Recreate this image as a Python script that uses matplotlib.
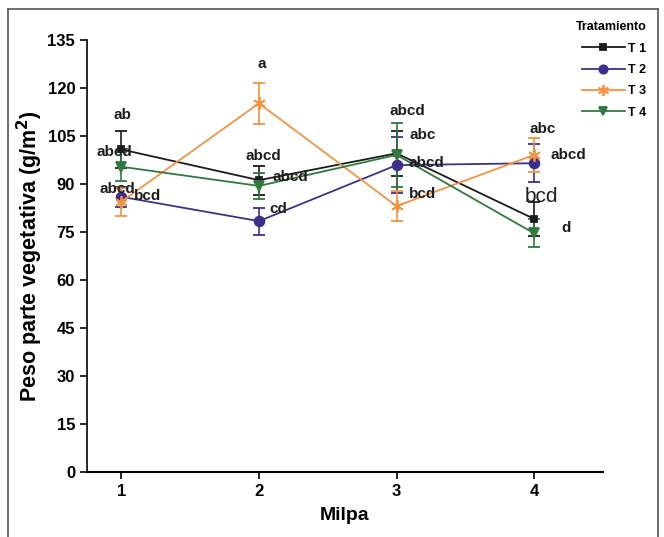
import matplotlib
matplotlib.use("Agg")
import matplotlib.pyplot as plt
from matplotlib.lines import Line2D

milpa = [1, 2, 3, 4]
series_names = ["T 1", "T 2", "T 3", "T 4"]
t1 = [100.8, 91.2, 99.6, 79.1]
t1_err = [5.8, 4.5, 7.0, 5.3]
t2 = [86.0, 78.4, 95.9, 96.5]
t2_err = [3.2, 4.2, 8.7, 6.0]
t3 = [84.5, 115.2, 83.1, 99.1]
t3_err = [4.4, 6.5, 4.8, 5.2]
t4 = [95.4, 89.4, 99.1, 74.6]
t4_err = [4.5, 4.0, 9.9, 4.4]

labels_text = ["ab", "abcd", "abcd", "bcd",
               "a", "abcd", "abcd", "cd",
               "abcd", "abc", "abcd", "bcd",
               "abc", "abcd", "bcd", "d"]
labels_x = [1.01, 0.95, 0.97, 1.19,
            2.02, 2.03, 2.23, 2.14,
            3.08, 3.19, 3.22, 3.19,
            4.06, 4.25, 4.05, 4.23]
labels_y = [111.5, 100.1, 88.4, 86.3,
            127.4, 98.6, 92.2, 82.2,
            112.9, 105.2, 96.7, 86.8,
            107.2, 99.1, 86.0, 76.1]
labels_size = [11, 11, 11, 11, 11, 11, 11, 11, 11, 11, 11, 11, 11, 11, 15, 11]
labels_weight = ["bold"] * 14 + ["medium", "bold"]

yticks = [0, 15, 30, 45, 60, 75, 90, 105, 120, 135]

plt.rcParams['font.family'] = ['Liberation Sans', 'DejaVu Sans']

fig = plt.figure(figsize=(6.64, 5.37), dpi=100)
ax = fig.add_axes([0.131, 0.121, 0.777, 0.8045])

colors = ["#1c1c1c", "#3f2f8c", "#f5923e", "#2f7a3c"]
markers = ["s", "o", (6, 2, 0), "v"]
msizes = [5, 7, 9, 7]
data = [(t1, t1_err), (t2, t2_err), (t3, t3_err), (t4, t4_err)]

handles = []
for (vals, errs), c, m, ms, name in zip(data, colors, markers, msizes, series_names):
    ax.errorbar(milpa, vals, yerr=errs, color=c, marker=m, markersize=ms,
                linewidth=1.3, elinewidth=1.2, capsize=4, capthick=1.2,
                markeredgewidth=1.3)
    handles.append(Line2D([], [], color=c, marker=m, markersize=ms - 1,
                          linewidth=1.3, markeredgewidth=1.3, label=name))

for t, x, y, s, w in zip(labels_text, labels_x, labels_y, labels_size, labels_weight):
    ax.text(x, y, t, ha="center", va="center", fontsize=s, fontweight=w, color="#1e1e1e")

ax.set_xlim(0.75, 4.5)
ax.set_ylim(0, 135)
ax.set_xticks(milpa)
ax.set_yticks(yticks)
ax.tick_params(axis="both", labelsize=12, width=1.2, length=5, direction="out")
for lab in ax.get_xticklabels() + ax.get_yticklabels():
    lab.set_fontweight("bold")
ax.spines["top"].set_visible(False)
ax.spines["right"].set_visible(False)
ax.spines["left"].set_linewidth(1.2)
ax.spines["bottom"].set_linewidth(1.5)

ax.set_xlabel("Milpa", fontsize=14, fontweight="bold", labelpad=6)
ax.set_ylabel("Peso parte vegetativa (g/m$^\\mathbf{2}$)", fontsize=15.5, fontweight="bold", labelpad=2)

leg = ax.legend(handles=handles, title="Tratamiento", loc="upper left", bbox_to_anchor=(0.938, 1.055),
                frameon=False, fontsize=9, title_fontproperties={"weight": "bold", "size": 9},
                handlelength=3.4, handletextpad=0.3, labelspacing=0.75, borderaxespad=0)
leg._legend_box.align = "right"
for txt in leg.get_texts():
    txt.set_fontweight("bold")

# figure border (top, left, right)
fig.add_artist(Line2D([8 / 664, 8 / 664], [0, 1 - 9 / 537], transform=fig.transFigure, color="#555555", lw=1.2))
fig.add_artist(Line2D([8 / 664, 658 / 664], [1 - 9 / 537, 1 - 9 / 537], transform=fig.transFigure, color="#555555", lw=1.2))
fig.add_artist(Line2D([658 / 664, 658 / 664], [0, 1 - 9 / 537], transform=fig.transFigure, color="#555555", lw=1.2))

fig.savefig("out.png", dpi=100)
